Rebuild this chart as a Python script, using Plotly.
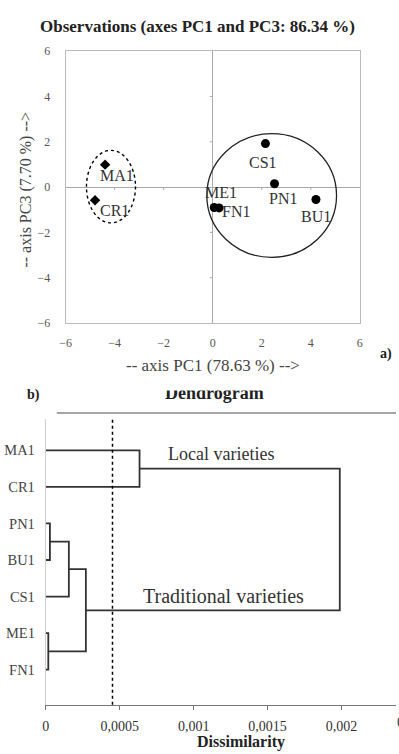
import plotly.graph_objects as go

# ---------------- data: PCA observations ----------------
obs_names = ["MA1", "CR1", "CS1", "PN1", "BU1", "ME1", "FN1"]
obs_pc1 = [-4.39, -4.80, 2.15, 2.52, 4.21, 0.06, 0.26]
obs_pc3 = [0.99, -0.58, 1.92, 0.15, -0.55, -0.90, -0.92]
obs_group = ["local", "local", "trad", "trad", "trad", "trad", "trad"]
# label offsets in pixels (dx right, dy down)
label_dx = [12, 19, -2, 8, 0, 7, 17]
label_dy = [11, 10, 19, 15, 17, -15, 4]

# group outlines (x0, x1, y0, y1 in PC units)
local_ellipse = [-5.15, -3.15, -1.58, 1.62]
trad_circle = [-0.24, 5.05, -3.10, 2.36]

axis_ticks = [-6, -4, -2, 0, 2, 4, 6]

# ---------------- data: dendrogram ----------------
leaves = ["MA1", "CR1", "PN1", "BU1", "CS1", "ME1", "FN1"]
merge_left = ["PN1", "ME1", "PN1-BU1", "PN1-BU1-CS1", "MA1", "MA1-CR1"]
merge_right = ["BU1", "FN1", "CS1", "ME1-FN1", "CR1", "PN1-BU1-CS1-ME1-FN1"]
merge_height = [0.000028, 0.000017, 0.000156, 0.000271, 0.000634, 0.001988]
truncation_level = 0.000451
diss_ticks = [0, 0.0005, 0.001, 0.0015, 0.002]
diss_ticktext = ["0", "0,0005", "0,001", "0,0015", "0,002"]

W, H = 399, 754
SERIF = "Liberation Serif"


def px(x):
    return x / W


def py(y):
    return 1 - y / H


fig = go.Figure()

# ---- top scatter ----
for grp, sym, size in [("local", "diamond", 8), ("trad", "circle", 9)]:
    idx = [i for i, g in enumerate(obs_group) if g == grp]
    fig.add_trace(go.Scatter(
        x=[obs_pc1[i] for i in idx], y=[obs_pc3[i] for i in idx],
        mode="markers", marker=dict(symbol=sym, size=size, color="black"),
        xaxis="x", yaxis="y", showlegend=False, hoverinfo="text",
        text=[obs_names[i] for i in idx]))

# ---- dendrogram ----
pos = {name: i for i, name in enumerate(leaves)}
hgt = {name: 0.0 for name in leaves}
dx, dy = [], []
for a, b, h in zip(merge_left, merge_right, merge_height):
    dx += [hgt[a], h, h, hgt[b], None]
    dy += [pos[a], pos[a], pos[b], pos[b], None]
    node = a + "-" + b
    pos[node] = (pos[a] + pos[b]) / 2
    hgt[node] = h
fig.add_trace(go.Scatter(x=dx, y=dy, mode="lines",
                         line=dict(color="#333333", width=1.8),
                         xaxis="x2", yaxis="y2", showlegend=False,
                         hoverinfo="skip"))

tickfont_top = dict(family=SERIF, size=12, color="#555555")
fig.update_layout(
    width=W, height=H, margin=dict(l=0, r=0, t=0, b=0),
    paper_bgcolor="white", plot_bgcolor="white",
    xaxis=dict(domain=[px(61), px(362)], range=[-6, 6], tickvals=axis_ticks,
               showline=True, mirror=True, linecolor="#bbbbbb", linewidth=1,
               zeroline=True, zerolinecolor="#aaaaaa", zerolinewidth=1,
               showgrid=False, ticks="", tickfont=tickfont_top,
               ticklabelstandoff=9, anchor="y"),
    yaxis=dict(domain=[py(322), py(45)], range=[-6, 6], tickvals=axis_ticks,
               showline=True, mirror=True, linecolor="#bbbbbb", linewidth=1,
               zeroline=True, zerolinecolor="#aaaaaa", zerolinewidth=1,
               showgrid=False, ticks="", tickfont=tickfont_top,
               ticklabelstandoff=12, anchor="x"),
    xaxis2=dict(domain=[px(40.7), 1], range=[0, (W - 40.7) / 151300],
                tickvals=diss_ticks, ticktext=diss_ticktext,
                showline=True, linecolor="#777777", linewidth=1,
                ticks="outside", ticklen=4, tickcolor="#777777",
                zeroline=False, showgrid=False,
                tickfont=dict(family=SERIF, size=14, color="#333333"),
                ticklabelstandoff=4, anchor="y2"),
    yaxis2=dict(domain=[py(711), py(420)], range=[6.96, -0.851],
                tickvals=list(range(len(leaves))), ticktext=leaves,
                showline=True, linecolor="#cccccc", linewidth=1,
                ticks="", zeroline=False, showgrid=False,
                tickfont=dict(family=SERIF, size=14.5, color="#444444"),
                ticklabelstandoff=7, anchor="x2"),
)

shapes = []
# group outlines
shapes.append(dict(type="circle", xref="x", yref="y",
                   x0=local_ellipse[0], x1=local_ellipse[1],
                   y0=local_ellipse[2], y1=local_ellipse[3],
                   line=dict(color="black", width=1.4, dash="dot")))
shapes.append(dict(type="circle", xref="x", yref="y",
                   x0=trad_circle[0], x1=trad_circle[1],
                   y0=trad_circle[2], y1=trad_circle[3],
                   line=dict(color="#222222", width=1.3)))
# small tick marks on the zero lines
for t in axis_ticks:
    if t in (0, -6, 6):
        continue
    shapes.append(dict(type="line", xref="x", yref="y", x0=0, x1=-0.12,
                       y0=t, y1=t, line=dict(color="#aaaaaa", width=1)))
    shapes.append(dict(type="line", xref="x", yref="y", x0=t, x1=t,
                       y0=0, y1=-0.13, line=dict(color="#aaaaaa", width=1)))
# truncation line in dendrogram
shapes.append(dict(type="line", xref="x2", yref="y2 domain",
                   x0=truncation_level, x1=truncation_level, y0=0, y1=1,
                   line=dict(color="black", width=1.5, dash="dot")))
# header rule of the dendrogram
shapes.append(dict(type="line", xref="paper", yref="paper",
                   x0=px(52), x1=1, y0=py(413.7), y1=py(413.7),
                   line=dict(color="#888888", width=1.5)))
fig.update_layout(shapes=shapes)

ann = []
for n, x, y, ddx, ddy in zip(obs_names, obs_pc1, obs_pc3, label_dx, label_dy):
    ann.append(dict(x=x, y=y, xref="x", yref="y", text=n, showarrow=False,
                    xshift=ddx, yshift=-ddy,
                    font=dict(family=SERIF, size=16, color="#333333")))


def text_px(x, y, text, size, bold=False, color="#222222", angle=0,
            xanchor="center"):
    t = "<b>%s</b>" % text if bold else text
    return dict(x=px(x), y=py(y), xref="paper", yref="paper", text=t,
                showarrow=False, textangle=angle, xanchor=xanchor,
                yanchor="middle",
                font=dict(family=SERIF, size=size, color=color))


ann.append(text_px(195.5, 20, "Observations (axes PC1 and PC3: 86.34 %)", 17,
                   bold=True))
ann.append(text_px(211.5, 365, "-- axis PC1 (78.63 %) -->", 17,
                   color="#444444"))
ann.append(text_px(21, 186.5, "-- axis PC3 (7.70 %) -->", 16,
                   color="#444444", angle=-90))
ann.append(text_px(389, 354, "a)", 14, bold=True))
ann.append(text_px(28, 395, "b)", 14, bold=True))
ann.append(text_px(213, 393, "Dendrogram", 18, bold=True))
# paper cut: the upper part of the dendrogram title is hidden
ann.append(dict(x=px(213), y=py(391.5), xref="paper", yref="paper",
                text=" ", showarrow=False, width=140, height=10,
                bgcolor="white", yanchor="bottom", borderpad=0))
ann.append(text_px(220, 455, "Local varieties", 18, color="#333333"))
ann.append(text_px(223, 600, "Traditional varieties", 20, color="#333333"))
ann.append(text_px(240, 749, "Dissimilarity", 16, bold=True))
ann.append(text_px(419.5, 729, "0,0025", 14, color="#333333"))
fig.update_layout(annotations=ann)

fig.write_html(
    "out.html",
    config={"displayModeBar": False},
    post_script="document.body.style.margin='0';"
                "document.body.style.overflow='hidden';")
